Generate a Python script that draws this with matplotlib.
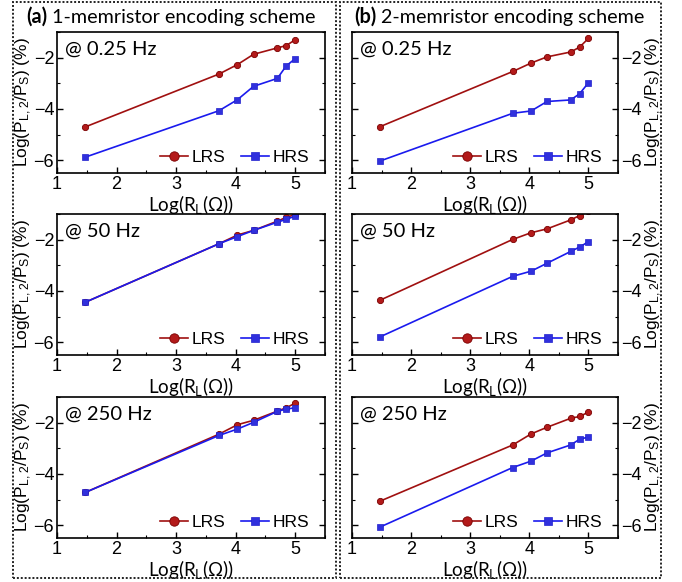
import matplotlib
matplotlib.use("Agg")
import matplotlib.pyplot as plt
from matplotlib.patches import Rectangle
from matplotlib.ticker import MultipleLocator

plt.rcParams['font.family'] = ['Liberation Sans', 'DejaVu Sans']
plt.rcParams['mathtext.fontset'] = 'custom'
plt.rcParams['mathtext.default'] = 'regular'

# log10 of load resistance
logR = [1.477, 3.72, 4.03, 4.30, 4.70, 4.85, 5.0]

# (a) 1-memristor scheme
a_lrs_025 = [-4.70, -2.64, -2.27, -1.87, -1.62, -1.53, -1.30]
a_hrs_025 = [-5.88, -4.07, -3.64, -3.12, -2.81, -2.32, -2.04]
a_lrs_50 = [-4.44, -2.16, -1.82, -1.64, -1.28, -1.13, -1.02]
a_hrs_50 = [-4.44, -2.16, -1.88, -1.64, -1.32, -1.21, -1.08]
a_lrs_250 = [-4.72, -2.45, -2.08, -1.91, -1.55, -1.42, -1.24]
a_hrs_250 = [-4.72, -2.50, -2.25, -1.99, -1.56, -1.47, -1.42]

# (b) 2-memristor scheme
b_lrs_025 = [-4.69, -2.54, -2.21, -1.97, -1.78, -1.59, -1.25]
b_hrs_025 = [-6.03, -4.17, -4.08, -3.71, -3.65, -3.41, -2.98]
b_lrs_50 = [-4.36, -1.99, -1.73, -1.58, -1.23, -1.06, -0.90]
b_hrs_50 = [-5.79, -3.43, -3.23, -2.92, -2.46, -2.29, -2.08]
b_lrs_250 = [-5.06, -2.87, -2.44, -2.18, -1.83, -1.76, -1.59]
b_hrs_250 = [-6.07, -3.75, -3.50, -3.18, -2.87, -2.65, -2.56]

freqs = ["@ 0.25 Hz", "@ 50 Hz", "@ 250 Hz"]
titles = [("(a)", " 1-memristor encoding scheme"), ("(b)", " 2-memristor encoding scheme")]
data = [[(a_lrs_025, a_hrs_025), (a_lrs_50, a_hrs_50), (a_lrs_250, a_hrs_250)],
        [(b_lrs_025, b_hrs_025), (b_lrs_50, b_hrs_50), (b_lrs_250, b_hrs_250)]]

W, H = 682, 582
fig = plt.figure(figsize=(W / 100, H / 100), dpi=100)

cols = [(57, 325), (352, 618)]
rows = [(32, 173), (214, 355), (397, 538)]
lrs_col = '#a01010'
hrs_col = '#1a1aee'
title_font = ['Lato', 'DejaVu Sans']

# dotted boxes
for (x0, x1) in [(13, 336), (340, 661)]:
    fig.patches.append(Rectangle((x0 / W, 1 - 578 / H), (x1 - x0) / W, (578 - 2) / H,
                                 transform=fig.transFigure, fill=False, ec='#222222',
                                 lw=1.4, ls=(0, (1, 1))))

for c, (x0, x1) in enumerate(cols):
    for r, (y0, y1) in enumerate(rows):
        ax = fig.add_axes([x0 / W, 1 - y1 / H, (x1 - x0) / W, (y1 - y0) / H])
        lrs, hrs = data[c][r]
        ax.plot(logR, lrs, '-o', color=lrs_col, lw=1.2, ms=4.5, mfc='#b31a1a', mec='#7a0000',
                mew=0.6, label='LRS')
        ax.plot(logR, hrs, '-s', color=hrs_col, lw=1.2, ms=4.2, mfc='#3030dd', mec='#2020cc',
                mew=0.5, label='HRS')
        ax.set_xlim(1, 5.5)
        ax.set_ylim(-6.5, -1)
        ax.xaxis.set_major_locator(MultipleLocator(1))
        ax.xaxis.set_minor_locator(MultipleLocator(0.5))
        ax.yaxis.set_major_locator(MultipleLocator(2))
        ax.yaxis.set_minor_locator(MultipleLocator(1))
        ax.tick_params(which='both', direction='in', left=True, right=True, labelsize=13, pad=2)
        ax.tick_params(which='major', length=4, width=1)
        ax.tick_params(which='minor', length=2.5, width=0.8)
        for s in ax.spines.values():
            s.set_linewidth(1.2)
        ax.set_xlabel(r'Log(R$_{\mathregular{L}}$($\Omega$))', family=title_font, fontsize=13.5,
                      labelpad=0)
        ylab = r'Log(P$_{\mathregular{L,2}}$/P$_{\mathregular{S}}$) (%)'
        if c == 0:
            ax.set_ylabel(ylab, fontsize=12.5, labelpad=0)
        else:
            ax.yaxis.tick_right()
            ax.tick_params(which='both', left=True, right=True, labelleft=False, labelright=True)
            ax.yaxis.set_label_position('right')
            ax.set_ylabel(ylab, fontsize=12.5, labelpad=2)
        ax.text(0.03, 0.88, freqs[r], transform=ax.transAxes, family=title_font,
                fontsize=14.5, va='center', ha='left')
        ax.legend(loc='lower right', ncol=2, frameon=False, fontsize=12.5, markerscale=1.5,
                  handlelength=1.6, handletextpad=0.2, columnspacing=0.9,
                  bbox_to_anchor=(0.985, -0.03), borderaxespad=0.3)

# titles: bold tag followed by regular text
fig.canvas.draw()
renderer = fig.canvas.get_renderer()
for (x0, x1), (tag, rest), tx in zip(cols, titles, [26, 354]):
    t = fig.text(tx / W, 1 - 17 / H, tag, family=title_font, weight='bold', fontsize=14.2,
                 va='center', ha='left')
    bb = t.get_window_extent(renderer)
    fig.text(bb.x1 / W, 1 - 17 / H, rest, family=title_font, fontsize=14.2,
             va='center', ha='left')

fig.savefig('out.png', dpi=100)
